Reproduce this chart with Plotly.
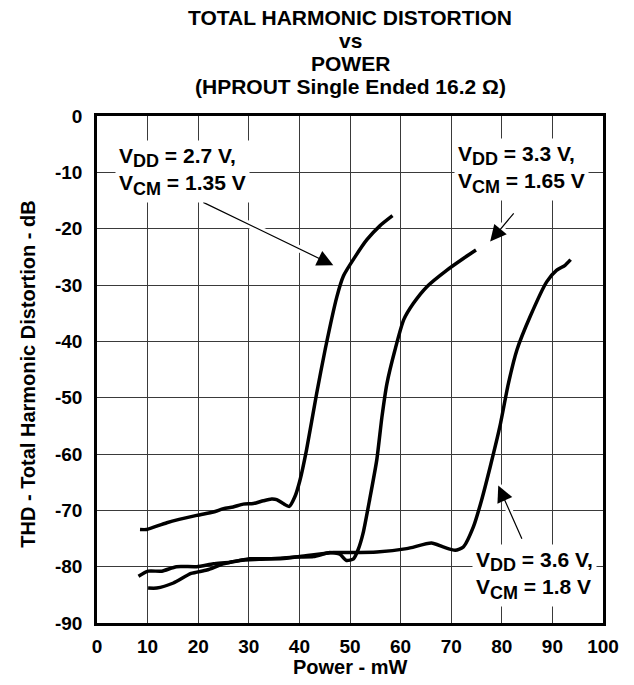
import plotly.graph_objects as go

# THD vs output power, HPROUT single ended 16.2 ohm
power_27 = [8.5, 9.8, 13.8, 19.7, 23.0, 25.0, 26.9, 28.9, 30.9, 32.9, 34.5, 35.5, 36.8, 38.0,
            39.1, 40.1, 41.4, 43.4, 45.1, 47.4, 48.7, 51.0, 53.3, 55.9, 58.4]
thd_27 = [-73.4, -73.4, -72.2, -70.9, -70.3, -69.7, -69.4, -68.9, -68.8, -68.3, -68.0, -68.1, -68.8, -69.3,
          -67.6, -64.7, -59.3, -49.3, -41.4, -32.1, -28.4, -25.0, -22.0, -19.5, -17.7]

power_33 = [8.2, 10.1, 12.8, 15.7, 19.7, 23.0, 26.3, 30.2, 36.2, 39.5, 42.8, 46.0, 48.0, 49.3,
            50.7, 51.6, 52.6, 53.9, 55.3, 56.3, 57.3, 58.9, 60.6, 62.5, 65.2, 69.1, 72.4, 74.9]
thd_33 = [-81.7, -80.8, -80.8, -80.0, -80.0, -79.5, -79.2, -78.6, -78.6, -78.3, -78.2, -77.5, -77.8, -78.9,
          -78.6, -77.0, -74.0, -68.0, -61.0, -53.5, -47.5, -41.5, -36.2, -33.3, -30.3, -27.4, -25.3, -23.8]

power_36 = [10.1, 11.8, 15.1, 18.6, 21.7, 25.0, 28.3, 32.0, 36.2, 40.1, 46.7, 50.0, 55.3, 61.2, 66.1,
            68.4, 70.8, 72.4, 74.4, 76.0, 77.7, 79.6, 81.3, 83.0, 85.6, 88.9, 90.8, 92.5, 93.6]
thd_36 = [-83.8, -83.8, -82.9, -81.2, -80.6, -79.5, -78.9, -78.7, -78.5, -78.2, -77.5, -77.5, -77.4, -76.8, -75.8,
          -76.5, -77.1, -76.5, -72.9, -68.2, -62.3, -55.2, -47.5, -41.5, -35.6, -29.4, -27.4, -26.5, -25.5]

x_ticks = [0, 10, 20, 30, 40, 50, 60, 70, 80, 90, 100]
y_ticks = [0, -10, -20, -30, -40, -50, -60, -70, -80, -90]

title_lines = ['TOTAL HARMONIC DISTORTION', 'vs', 'POWER', '(HPROUT Single Ended 16.2 Ω)']

SUB = '<sub><span style="font-size:18px">%s</span></sub>'
labels = ['V' + SUB % 'DD' + ' = 2.7 V,<br>V' + SUB % 'CM' + ' = 1.35 V',
          'V' + SUB % 'DD' + ' = 3.3 V,<br>V' + SUB % 'CM' + ' = 1.65 V',
          'V' + SUB % 'DD' + ' = 3.6 V,<br>V' + SUB % 'CM' + ' = 1.8 V']
label_pos = [(3.6, -9.9), (70.5, -9.5), (74.2, -81.5)]
# arrow (tail, tip) in data units
arrows = [((20.7, -15.2), (46.7, -26.5)),
          ((82.6, -17.0), (77.7, -22.3)),
          ((84.1, -75.3), (79.3, -65.6))]

FONT = 'Arial, Liberation Sans, sans-serif'

fig = go.Figure()
for xs, ys in [(power_27, thd_27), (power_33, thd_33), (power_36, thd_36)]:
    fig.add_trace(go.Scatter(x=xs, y=ys, mode='lines', line=dict(color='black', width=3.5, shape='spline', smoothing=0.6),
                             showlegend=False, hoverinfo='skip'))

# white halo under the arrows, like the gridline gaps on the original
for (tx, ty), (hx, hy) in arrows:
    fig.add_shape(type='line', x0=tx, y0=ty, x1=hx, y1=hy, xref='x', yref='y',
                  line=dict(color='white', width=7), layer='between')
    fig.add_annotation(x=hx, y=hy, ax=tx, ay=ty, axref='x', ayref='y', text='',
                       showarrow=True, arrowhead=2, arrowsize=2.7, arrowwidth=1.2, arrowcolor='black')

for txt, (lx, ly) in zip(labels, label_pos):
    fig.add_annotation(x=lx, y=ly, xref='x', yref='y', text=txt, showarrow=False, xanchor='left', yanchor='middle',
                       align='left', bgcolor='white', borderpad=3,
                       font=dict(family=FONT, size=21, color='black', weight='bold'))

for i, line in enumerate(title_lines):
    fig.add_annotation(x=0.5, y=1.194 - i * 0.045, xref='paper', yref='paper', text=line, showarrow=False,
                       xanchor='center', yanchor='middle', font=dict(family=FONT, size=21, color='black', weight='bold'))

fig.add_annotation(x=0.5, y=-0.086, xref='paper', yref='paper', text='Power - mW', showarrow=False,
                   xanchor='center', yanchor='middle', font=dict(family=FONT, size=20, color='black', weight='bold'))
fig.add_annotation(x=-0.138, y=0.49, xref='paper', yref='paper', text='THD - Total Harmonic Distortion - dB',
                   showarrow=False, textangle=-90, xanchor='center', yanchor='middle',
                   font=dict(family=FONT, size=20, color='black', weight='bold'))

axis_style = dict(showline=True, linecolor='black', linewidth=2.5, mirror=True, showgrid=True,
                  gridcolor='#3a3a3a', gridwidth=1, zeroline=False, ticks='',
                  tickfont=dict(family=FONT, size=19, color='black', weight='bold'))

fig.update_xaxes(range=[0, 100], tickvals=x_ticks, ticktext=[str(v) for v in x_ticks],
                 ticklabelstandoff=4, **axis_style)
fig.update_yaxes(range=[-90, 0], tickvals=y_ticks, ticktext=[str(v) for v in y_ticks],
                 ticklabelstandoff=8, **axis_style)

fig.update_layout(width=634, height=685, margin=dict(l=97, r=31, t=116, b=62, autoexpand=False),
                  plot_bgcolor='white', paper_bgcolor='white', showlegend=False)

# drop the default page margin so the figure fills the window exactly
fig.write_html("out.html", config={'displayModeBar': False},
               post_script="document.body.style.margin='0';")
